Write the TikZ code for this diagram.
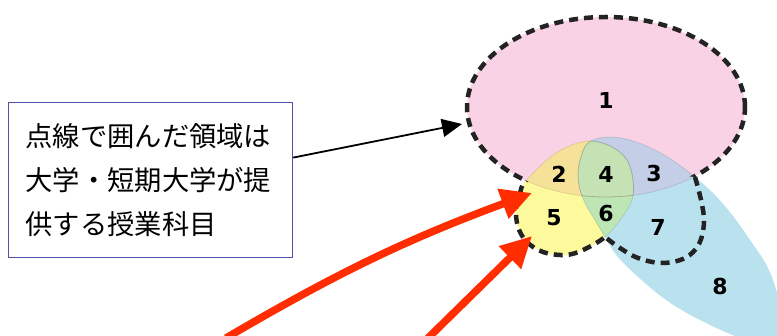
\documentclass[tikz,border=0pt]{standalone}
\usepackage{fontspec}
\newfontfamily\cjk{Noto Sans CJK JP}
\newfontfamily\numfont{DejaVu Sans}
\usetikzlibrary{arrows.meta}
\definecolor{pinkc}{RGB}{249,211,229}
\definecolor{yellowc}{RGB}{253,249,157}
\definecolor{bluec}{RGB}{186,226,238}
\definecolor{ctwo}{RGB}{246,225,152}
\definecolor{cfour}{RGB}{196,226,180}
\definecolor{cthree}{RGB}{196,206,230}
\definecolor{csix}{RGB}{190,229,180}
\definecolor{boxc}{RGB}{80,80,175}
\definecolor{redc}{RGB}{255,45,0}
\definecolor{dashc}{RGB}{35,35,35}
\begin{document}
\begin{tikzpicture}[x=1pt,y=-1pt,
  dashline/.style={draw=dashc, line width=4.5pt, dash pattern=on 9pt off 6pt},
  num/.style={font=\numfont\bfseries\fontsize{22}{22}\selectfont, inner sep=0pt},
  redarrow/.style={draw=redc, line width=7.5pt, -{Triangle[length=31pt,width=30pt]}},
  faint/.style={draw=black, opacity=0.1, line width=0.8pt}
]
\useasboundingbox (0,0) rectangle (777,336);
\clip (0,0) rectangle (777,336);

\def\pinkpath{(606,107) ellipse [x radius=139pt, y radius=90pt]}
\def\yellowpath{plot[smooth cycle, tension=0.6] coordinates {(525,182) (547,160) (567,147) (590,141) (612,147) (627,160) (633,180) (632,200) (620,220) (605,237) (583,250) (565,255) (543,252) (527,242) (518,227) (516,208) (520,193)}}
\def\bluepath{plot[smooth cycle, tension=0.6] coordinates {(579,165) (588,143) (610,137) (633,141) (655,150) (675,162) (695,177) (715,195) (733,216) (750,240) (767,266) (777,293) (780,320) (776,340) (762,345) (740,338) (712,326) (685,312) (662,297) (637,276) (617,256) (605,237) (595,220) (585,203) (579,185)}}
\def\sevcurve{plot[smooth, tension=0.6] coordinates {(695,177) (701,200) (704,222) (699,244) (685,258) (662,263) (638,258) (620,248) (605,237)}}
\def\sevpath{\sevcurve -- (615,168) -- cycle}
\def\bigrect{(-50,-50) rectangle (850,400)}

% fills
\fill[pinkc] \pinkpath;
\fill[yellowc] \yellowpath;
\fill[bluec] \bluepath;
\begin{scope}
  \clip \yellowpath;
  \fill[csix] \bluepath;
\end{scope}
\begin{scope}
  \clip \pinkpath;
  \fill[ctwo] \yellowpath;
  \fill[cthree] \bluepath;
  \begin{scope}
    \clip \yellowpath;
    \fill[cfour] \bluepath;
  \end{scope}
\end{scope}

% faint inner boundaries
\begin{scope}
  \clip \pinkpath;
  \draw[faint] \yellowpath;
  \draw[faint] \bluepath;
\end{scope}
\begin{scope}
  \clip \yellowpath;
  \draw[faint] \bluepath;
  \draw[faint] \pinkpath;
\end{scope}
\begin{scope}
  \clip \bluepath;
  \draw[faint] \yellowpath;
  \draw[faint] \pinkpath;
\end{scope}

% dashed outline of the union
\begin{scope}[even odd rule]
  \clip \yellowpath \bigrect;
  \clip \sevpath \bigrect;
  \draw[dashline] \pinkpath;
\end{scope}
\begin{scope}[even odd rule]
  \clip \pinkpath \bigrect;
  \clip \sevpath \bigrect;
  \draw[dashline] \yellowpath;
\end{scope}
\draw[dashline] \sevcurve;

% numbers
\node[num] (n1) at (606,100) {1};
\node[num] (n2) at (559,174) {2};
\node[num] (n4) at (606,174) {4};
\node[num] (n3) at (654,173) {3};
\node[num] (n5) at (554,218) {5};
\node[num] (n6) at (606,214) {6};
\node[num] (n7) at (658,227) {7};
\node[num] (n8) at (720,286) {8};

% text box
\node[draw=boxc, line width=1.2pt, fill=white, anchor=north west,
      minimum width=284pt, minimum height=155pt, inner xsep=17pt, inner ysep=0pt,
      text width=250pt, align=left, font=\cjk\fontsize{27.3}{44}\selectfont]
      (box) at (8,102) {点線で囲んだ領域は\\大学・短期大学が提\\供する授業科目};

% arrows
\coordinate (tipA) at (462,124);
\draw[line width=1.8pt, -{Triangle[length=20pt,width=18pt]}] ([yshift=22.5pt]box.east) -- (tipA);

\coordinate (r1s) at (226,338);
\coordinate (r1t) at (532,193);
\coordinate (r2s) at (424,342);
\coordinate (r2t) at (532,236);
\draw[redarrow] (r1s) to[bend left=5] (r1t);
\draw[redarrow] (r2s) -- (r2t);
\end{tikzpicture}
\end{document}
